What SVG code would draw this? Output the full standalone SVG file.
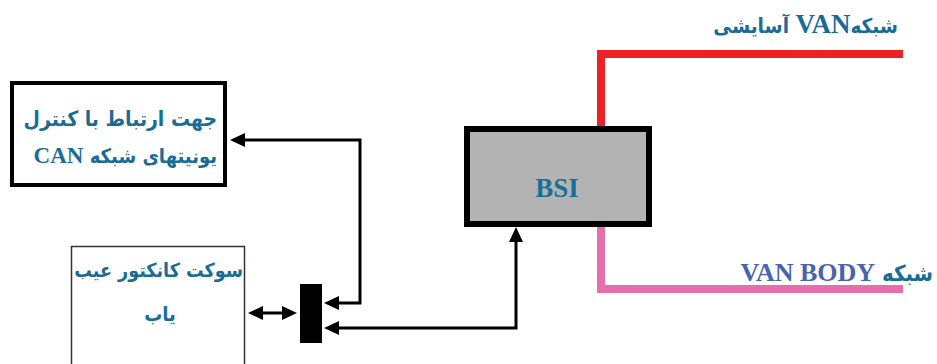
<svg xmlns="http://www.w3.org/2000/svg" width="937" height="364" viewBox="0 0 937 364">
<style>
.fa{font-family:"DejaVu Sans Condensed","DejaVu Sans",sans-serif;font-stretch:condensed;font-weight:bold;fill:#1b6c95}
.la{font-family:"Liberation Serif",serif;font-stretch:normal;font-weight:bold}
.conn{fill:none;stroke:#000;stroke-width:3;stroke-linejoin:miter}
</style>
<defs>
<marker id="ah" viewBox="0 0 15 14" markerWidth="15" markerHeight="14" refX="11" refY="7" orient="auto-start-reverse" markerUnits="userSpaceOnUse">
<path d="M0,0 L15,7 L0,14 z" fill="#000"/>
</marker>
</defs>
<g id="bus-lines">
<path d="M601,129 V54 H903" fill="none" stroke="#ee2124" stroke-width="8"/>
<path d="M601,226 V289 H903" fill="none" stroke="#e46fac" stroke-width="8"/>
</g>
<g id="connectors">
<path class="conn" d="M234,140 H360 V303 H328" marker-start="url(#ah)" marker-end="url(#ah)"/>
<path class="conn" d="M328,328 H516 V231" marker-start="url(#ah)" marker-end="url(#ah)"/>
<path class="conn" d="M252,313 H293" marker-start="url(#ah)" marker-end="url(#ah)"/>
</g>
<g id="can-box">
<rect x="12" y="83" width="213" height="102" fill="#fff" stroke="#000" stroke-width="4"/>
<text class="fa" x="217" y="126" font-size="21" direction="rtl" text-anchor="start">جهت ارتباط با کنترل</text>
<text class="fa" x="217" y="163" font-size="20" direction="rtl" text-anchor="start">یونیتهای شبکه <tspan class="la" font-size="23">CAN</tspan></text>
</g>
<g id="socket-box">
<rect x="71.5" y="246.5" width="173" height="130" fill="#fff" stroke="#333" stroke-width="1.5"/>
<text class="fa" x="243" y="277" font-size="19.5" direction="rtl" text-anchor="start">سوکت کانکتور عیب</text>
<text class="fa" x="160" y="321" font-size="20" direction="rtl" text-anchor="middle">یاب</text>
</g>
<g id="connector-block">
<rect x="300" y="284" width="22" height="59" fill="#000"/>
</g>
<g id="bsi">
<rect x="467" y="129" width="182" height="95" fill="#b3b3b3" stroke="#000" stroke-width="6"/>
<text class="la" x="557" y="197" font-size="27" fill="#1a6f96" text-anchor="middle">BSI</text>
</g>
<g id="van-comfort-label">
<text class="fa" x="898" y="33" font-size="20.5" direction="rtl" text-anchor="start">شبکه<tspan class="la" font-size="27">VAN</tspan> آسایشی</text>
</g>
<g id="van-body-label">
<text class="fa" x="933" y="281" font-size="22" direction="rtl" text-anchor="start">شبکه <tspan class="la" font-size="26" fill="#4a63ae">VAN BODY</tspan></text>
</g>
</svg>
